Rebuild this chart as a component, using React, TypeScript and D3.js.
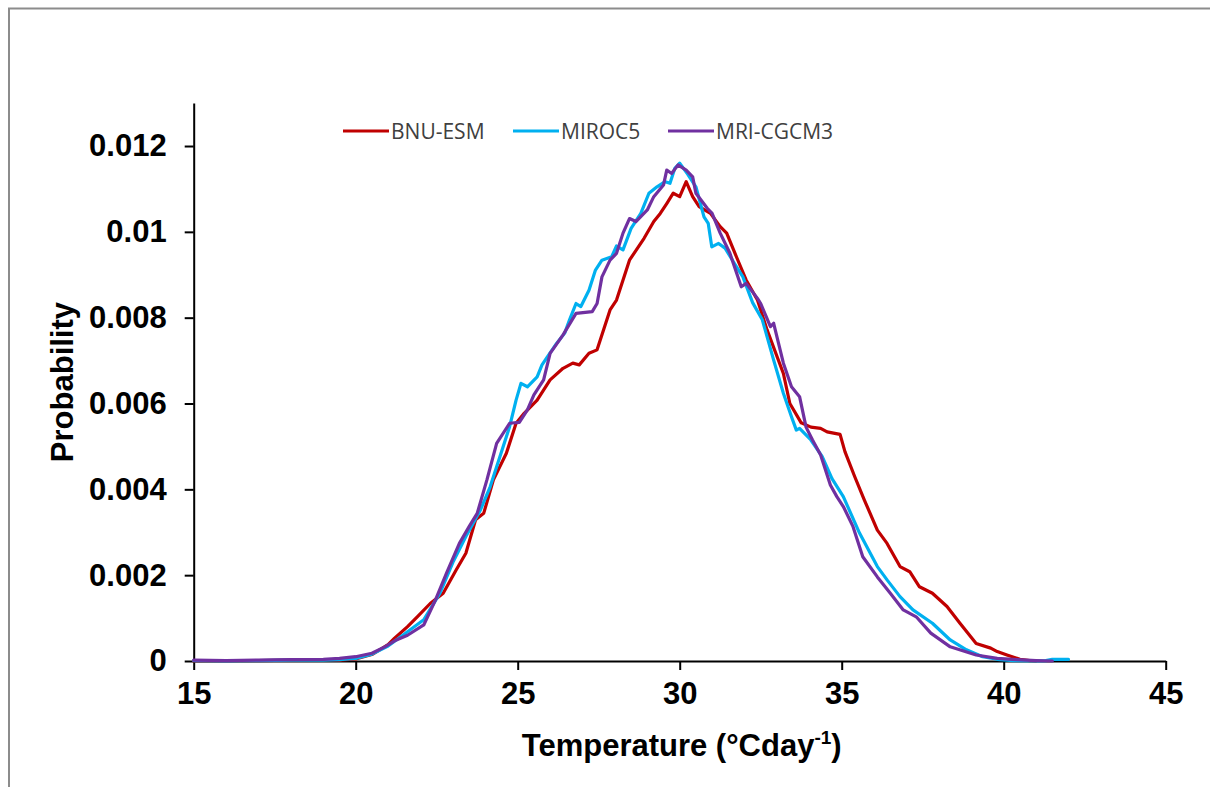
import { useEffect, useRef } from 'react'
import * as d3 from 'd3'

// [temperature, probability]
const bnuEsm: [number, number][] = [
  [15, 0], [16, 0], [17, 0.00001], [18, 0.00002], [19, 0.00003], [19.5, 0.00002],
  [20, 0.00005], [20.5, 0.00015], [21, 0.00038], [21.2, 0.00053], [21.6, 0.0008],
  [21.9, 0.00103], [22.3, 0.00134], [22.7, 0.00158], [23.1, 0.00212], [23.4, 0.00251],
  [23.7, 0.00329], [23.95, 0.00344], [24.25, 0.00422], [24.65, 0.00484], [24.95, 0.00554],
  [25.2, 0.00577], [25.6, 0.00608], [26.0, 0.00655], [26.4, 0.00682], [26.7, 0.00694],
  [26.9, 0.0069], [27.2, 0.00717], [27.45, 0.00725], [27.85, 0.00818], [28.05, 0.00841],
  [28.45, 0.00934], [28.9, 0.00985], [29.2, 0.01024], [29.4, 0.01043], [29.6, 0.01066],
  [29.8, 0.0109], [30.0, 0.01082], [30.2, 0.01117], [30.4, 0.01082], [30.6, 0.01059],
  [30.95, 0.01043], [31.25, 0.01012], [31.45, 0.00997], [31.75, 0.00942], [32.05, 0.00888],
  [32.4, 0.00841], [32.7, 0.00771], [33.2, 0.0067], [33.4, 0.006], [33.75, 0.00555],
  [34.05, 0.00545], [34.35, 0.00542], [34.55, 0.00534], [34.95, 0.00528], [35.1, 0.00488],
  [35.4, 0.0043], [35.7, 0.00375], [36.1, 0.00305], [36.4, 0.00274], [36.8, 0.0022],
  [37.1, 0.00208], [37.4, 0.00173], [37.8, 0.00158], [38.25, 0.00127], [38.65, 0.00088],
  [39.15, 0.00041], [39.6, 0.0003], [39.8, 0.00022], [40.1, 0.00014], [40.5, 0.00004],
  [40.8, 0.00001], [41, 0],
]

const miroc5: [number, number][] = [
  [15, 0.00001], [16, 0], [17, 0.00001], [18, 0.00002], [19, 0.00002], [19.5, 0.00003],
  [20, 0.00006], [20.5, 0.00016], [21, 0.00035], [21.4, 0.00057], [22.1, 0.00096],
  [22.6, 0.00158], [23.0, 0.0023], [23.4, 0.0029], [23.85, 0.00352], [24.15, 0.00406],
  [24.55, 0.00499], [24.75, 0.00546], [24.95, 0.00608], [25.1, 0.00647], [25.3, 0.00639],
  [25.6, 0.00662], [25.75, 0.0069], [25.9, 0.00707], [26.2, 0.0074], [26.45, 0.00764],
  [26.6, 0.00795], [26.8, 0.00833], [26.95, 0.00826], [27.2, 0.00864], [27.4, 0.00911],
  [27.6, 0.00934], [27.9, 0.00942], [28.05, 0.00967], [28.25, 0.00958], [28.5, 0.01008],
  [28.8, 0.01043], [29.05, 0.0109], [29.3, 0.01105], [29.55, 0.01117], [29.7, 0.01113],
  [29.85, 0.01148], [30.0, 0.0116], [30.25, 0.01134], [30.5, 0.01105], [30.75, 0.01035],
  [30.88, 0.0102], [30.99, 0.00965], [31.2, 0.00973], [31.4, 0.00962], [31.7, 0.00925],
  [31.95, 0.00895], [32.25, 0.00835], [32.55, 0.00795], [32.9, 0.00701], [33.2, 0.00624],
  [33.45, 0.00569], [33.6, 0.00538], [33.7, 0.00542], [34.05, 0.00515], [34.4, 0.00476],
  [34.7, 0.00425], [35.05, 0.00383], [35.55, 0.00298], [36.1, 0.0022], [36.4, 0.00189],
  [36.8, 0.0015], [37.2, 0.00119], [37.8, 0.00088], [38.35, 0.00049], [38.85, 0.00026],
  [39.35, 0.0001], [39.8, 0.00004], [40.3, 0.00001], [41, 0], [41.3, 0.00001],
  [41.5, 0.00004], [42, 0.00004],
]

const mriCgcm3: [number, number][] = [
  [15, 0.00002], [16, 0.00001], [17, 0.00002], [18, 0.00003], [19, 0.00004], [19.5, 0.00006],
  [20, 0.0001], [20.5, 0.00018], [20.9, 0.00033], [21.2, 0.00047], [21.6, 0.0006],
  [22.1, 0.00084], [22.45, 0.0014], [22.8, 0.00204], [23.2, 0.00274], [23.5, 0.00313],
  [23.75, 0.00344], [24.05, 0.00422], [24.35, 0.00507], [24.75, 0.00554], [25.05, 0.00556],
  [25.3, 0.00585], [25.5, 0.0062], [25.8, 0.00655], [26.0, 0.00717], [26.4, 0.0076],
  [26.8, 0.0081], [27.3, 0.00814], [27.45, 0.00833], [27.6, 0.00895], [27.85, 0.00934],
  [28.05, 0.0095], [28.25, 0.00997], [28.45, 0.01031], [28.65, 0.01024], [29.0, 0.01051],
  [29.2, 0.01082], [29.5, 0.01109], [29.6, 0.01144], [29.75, 0.01136], [29.95, 0.01156],
  [30.2, 0.01144], [30.4, 0.01128], [30.5, 0.0109], [30.85, 0.01055], [31.0, 0.01043],
  [31.25, 0.00997], [31.55, 0.0095], [31.9, 0.00872], [32.05, 0.0088], [32.4, 0.00845],
  [32.5, 0.00833], [32.8, 0.00779], [32.9, 0.00787], [33.2, 0.00694], [33.45, 0.00639],
  [33.7, 0.00616], [33.9, 0.00545], [34.1, 0.00515], [34.35, 0.0048], [34.65, 0.0041],
  [34.85, 0.00383], [35.05, 0.0036], [35.35, 0.00313], [35.65, 0.00243], [36.1, 0.00196],
  [36.5, 0.00158], [36.9, 0.00119], [37.3, 0.00103], [37.75, 0.00065], [38.35, 0.00033],
  [39.15, 0.00014], [39.8, 0.00006], [40.4, 0.00003], [41, 0.00001], [41.5, 0],
]

const seriesNames = ['BNU-ESM', 'MIROC5', 'MRI-CGCM3']
const seriesColors = ['#c00000', '#00b0f0', '#7030a0']
const xTickValues = [15, 20, 25, 30, 35, 40, 45]
const yTickValues = [0, 0.002, 0.004, 0.006, 0.008, 0.01, 0.012]
const yTickLabels = ['0', '0.002', '0.004', '0.006', '0.008', '0.01', '0.012']

export default function App() {
  const svgRef = useRef<SVGSVGElement | null>(null)

  useEffect(() => {
    if (!svgRef.current) return

    const width = 1210
    const height = 787
    const font = '"Liberation Sans", Arial, sans-serif'

    const svg = d3.select(svgRef.current)
    svg.selectAll('*').remove()
    svg.attr('width', width).attr('height', height)

    // frame (right and bottom edges fall outside the picture)
    svg.append('rect')
      .attr('x', 9).attr('y', 8.5)
      .attr('width', width + 20).attr('height', height + 20)
      .attr('fill', 'white')
      .attr('stroke', '#8c8c8c')
      .attr('stroke-width', 2)

    const x = d3.scaleLinear().domain([15, 45]).range([193.7, 1165.7])
    const y = d3.scaleLinear().domain([0, 0.013]).range([661, 103.1])

    // axes
    const xAxis = svg.append('g')
      .attr('transform', `translate(0, ${y(0)})`)
      .call(d3.axisBottom(x).tickValues(xTickValues).tickSize(9).tickSizeOuter(0).tickPadding(12))
    const yAxis = svg.append('g')
      .attr('transform', `translate(${x(15)}, 0)`)
      .call(
        d3.axisLeft(y)
          .tickValues(yTickValues)
          .tickFormat((d, i) => yTickLabels[i])
          .tickSize(9)
          .tickSizeOuter(0)
          .tickPadding(18)
      )

    for (const ax of [xAxis, yAxis]) {
      ax.select('.domain').attr('stroke', '#000').attr('stroke-width', 2)
      ax.selectAll('.tick line').attr('stroke', '#000').attr('stroke-width', 2)
      ax.selectAll('.tick text')
        .attr('fill', '#000')
        .style('font-family', font)
        .style('font-size', '31px')
        .style('font-weight', 'bold')
    }
    xAxis.selectAll('.tick text').attr('dy', '0.71em')

    // lines
    const line = d3.line<[number, number]>()
      .x(d => x(d[0]))
      .y(d => y(d[1]))

    ;[bnuEsm, miroc5, mriCgcm3].forEach((data, i) => {
      svg.append('path')
        .datum(data)
        .attr('d', line)
        .attr('fill', 'none')
        .attr('stroke', seriesColors[i])
        .attr('stroke-width', 3.2)
        .attr('stroke-linejoin', 'round')
        .attr('stroke-linecap', 'round')
    })

    // legend
    const legendX = [343, 513, 668]
    seriesNames.forEach((name, i) => {
      const g = svg.append('g').attr('transform', `translate(${legendX[i]}, 131)`)
      g.append('line')
        .attr('x1', 0).attr('x2', 46)
        .attr('stroke', seriesColors[i])
        .attr('stroke-width', 3)
      g.append('text')
        .attr('x', 48)
        .attr('y', 7.5)
        .style('font-family', '"Open Sans", sans-serif')
        .style('font-size', '21px')
        .attr('fill', '#404040')
        .text(name)
    })

    // axis titles
    const xt = svg.append('text')
      .attr('x', (x(15) + x(45)) / 2 + 2)
      .attr('y', 756)
      .attr('text-anchor', 'middle')
      .style('font-family', font)
      .style('font-size', '31px')
      .style('font-weight', 'bold')
      .attr('fill', '#000')
    xt.append('tspan').text('Temperature (°Cday')
    xt.append('tspan').attr('dy', -12).style('font-size', '19px').text('-1')
    xt.append('tspan').attr('dy', 12).text(')')

    svg.append('text')
      .attr('transform', `translate(73, ${(y(0) + y(0.013)) / 2}) rotate(-90)`)
      .attr('text-anchor', 'middle')
      .style('font-family', font)
      .style('font-size', '31px')
      .style('font-weight', 'bold')
      .attr('fill', '#000')
      .text('Probability')
  }, [])

  return (
    <svg
      ref={svgRef}
      style={{ position: 'absolute', left: 0, top: 0, display: 'block', background: 'white' }}
    ></svg>
  )
}
